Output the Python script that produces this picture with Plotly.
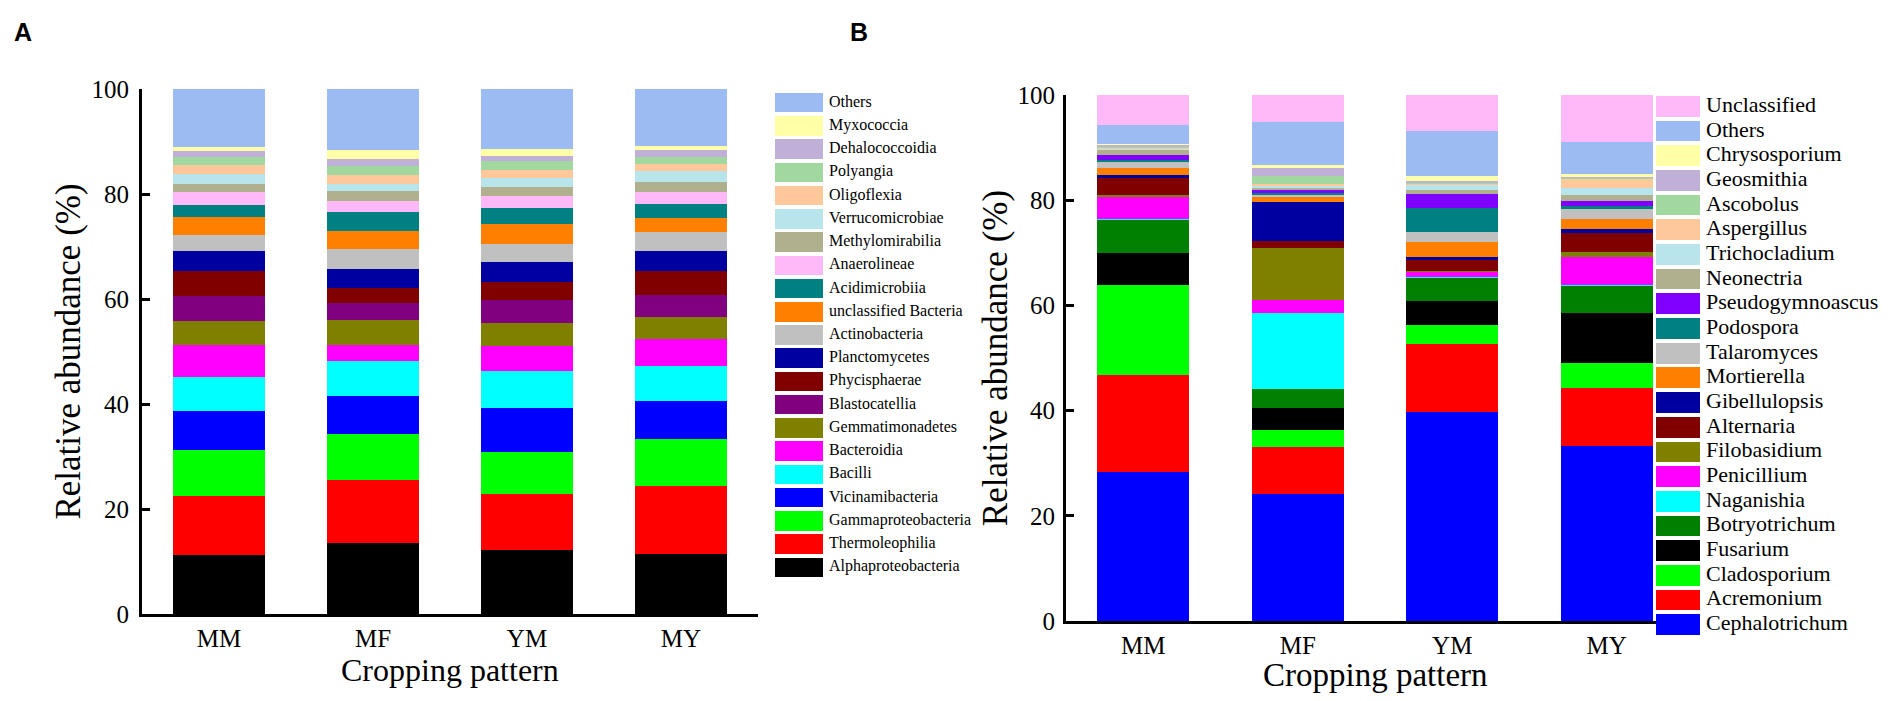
import plotly.graph_objects as go

W, H = 1889, 701

patterns = ["MM", "MF", "YM", "MY"]

# bacteria, listed bottom to top of the stack
bac_taxa = ["Alphaproteobacteria", "Thermoleophilia", "Gammaproteobacteria",
            "Vicinamibacteria", "Bacilli", "Bacteroidia", "Gemmatimonadetes",
            "Blastocatellia", "Phycisphaerae", "Planctomycetes", "Actinobacteria",
            "unclassified Bacteria", "Acidimicrobiia", "Anaerolineae",
            "Methylomirabilia", "Verrucomicrobiae", "Oligoflexia", "Polyangia",
            "Dehalococcoidia", "Myxococcia", "Others"]
bac_mm = [11.3, 11.1, 8.8, 7.4, 6.6, 6.1, 4.6, 4.7, 4.8, 3.8, 3.0, 3.4, 2.4, 2.4, 1.6, 1.9, 1.6, 1.6, 1.0, 0.9, 11.0]
bac_mf = [13.6, 11.9, 8.7, 7.3, 6.7, 3.1, 4.7, 3.2, 2.9, 3.7, 3.8, 3.4, 3.5, 2.1, 1.9, 1.5, 1.6, 1.8, 1.3, 1.7, 11.6]
bac_ym = [12.1, 10.7, 8.1, 8.4, 7.0, 4.8, 4.4, 4.3, 3.5, 3.7, 3.5, 3.7, 3.2, 2.2, 1.8, 1.6, 1.6, 1.6, 1.1, 1.3, 11.4]
bac_my = [11.4, 13.0, 8.9, 7.3, 6.6, 5.1, 4.2, 4.2, 4.6, 3.9, 3.5, 2.7, 2.7, 2.3, 1.8, 2.1, 1.5, 1.2, 1.3, 0.9, 10.8]

# fungi, bottom to top
fun_taxa = ["Cephalotrichum", "Acremonium", "Cladosporium", "Fusarium",
            "Botryotrichum", "Naganishia", "Penicillium", "Filobasidium",
            "Alternaria", "Gibellulopsis", "Mortierella", "Talaromyces",
            "Podospora", "Pseudogymnoascus", "Neonectria", "Trichocladium",
            "Aspergillus", "Ascobolus", "Geosmithia", "Chrysosporium",
            "Others", "Unclassified"]
fun_mm = [28.4, 18.3, 17.1, 6.1, 6.4, 0.1, 4.3, 0.2, 3.4, 0.4, 1.4, 1.3, 0.3, 0.9, 1.1, 0.2, 0.2, 0.2, 0.2, 0.2, 3.65, 5.65]
fun_mf = [24.2, 8.9, 3.3, 4.1, 3.6, 14.5, 2.4, 10.0, 1.2, 7.5, 1.0, 0.3, 0.3, 0.8, 0.3, 0.3, 0.3, 1.6, 1.6, 0.4, 8.3, 5.1]
fun_ym = [39.7, 13.0, 3.5, 4.6, 4.5, 0.1, 1.0, 0.1, 2.1, 0.6, 2.9, 1.9, 4.5, 2.6, 0.9, 0.9, 0.2, 0.2, 0.4, 0.9, 8.5, 6.9]
fun_my = [33.3, 11.0, 4.8, 9.4, 5.3, 0.1, 5.3, 1.0, 3.5, 0.9, 1.9, 1.9, 0.5, 1.0, 1.0, 1.4, 1.8, 0.2, 0.2, 0.4, 6.1, 9.0]

yticks = [0, 20, 40, 60, 80, 100]

bac_colors = ["#000000", "#FF0000", "#00FF00", "#0000FF", "#00FFFF", "#FF00FF",
              "#808000", "#800080", "#800000", "#0000A0", "#C0C0C0", "#FF8000",
              "#008080", "#FFB8F8", "#B0B08E", "#B8E4EC", "#FFC89A", "#A0D8A0",
              "#C0B0D8", "#FFFFA8", "#9DBBF3"]
fun_colors = ["#0000FF", "#FF0000", "#00FF00", "#000000", "#008000", "#00FFFF",
              "#FF00FF", "#808000", "#800000", "#0000A0", "#FF8000", "#C0C0C0",
              "#008080", "#8000FF", "#B0B08E", "#B8E4EC", "#FFC89A", "#A0D8A0",
              "#C0B0D8", "#FFFFA8", "#9DBBF3", "#FFB8F8"]

SERIF = "Liberation Serif"
KEY_GAP = 6  # px between swatch and label

fig = go.Figure()

def add_stack(taxa, cols, colors, xa, ya):
    for i, name in enumerate(taxa):
        fig.add_trace(go.Bar(
            x=patterns, y=[c[i] for c in cols], name=name,
            marker=dict(color=colors[i], line_width=0),
            xaxis=xa, yaxis=ya, showlegend=False))

# hand-made key: one swatch bar + one label per taxon, top entry first
def add_key(taxa, colors, xa, ya, size, label_x):
    names = taxa[::-1]
    fig.add_trace(go.Bar(
        y=names, x=[1] * len(names), orientation="h", width=0.84,
        marker=dict(color=colors[::-1], line_width=0),
        xaxis=xa, yaxis=ya, showlegend=False))
    fig.add_trace(go.Scatter(
        y=names, x=[label_x] * len(names), mode="text", text=names,
        textposition="middle right", cliponaxis=False,
        textfont=dict(family=SERIF, size=size, color="black"),
        xaxis=xa, yaxis=ya, showlegend=False))

def xax(x0, x1, anchor):
    return dict(domain=[x0 / W, x1 / W], range=[-0.5, 3.5], type="category",
                anchor=anchor,
                showline=True, linewidth=3, linecolor="black", ticks="",
                showgrid=False, zeroline=False,
                tickfont=dict(family=SERIF, size=25, color="black"))

def yax(y0, y1, anchor, lab_gap, title_gap):
    return dict(domain=[1 - y0 / H, 1 - y1 / H], range=[0, 100], anchor=anchor,
                tickvals=yticks, showline=True, linewidth=3, linecolor="black",
                ticks="inside", ticklen=8, tickwidth=3, tickcolor="black",
                showgrid=False, zeroline=False, ticklabelstandoff=lab_gap,
                tickfont=dict(family=SERIF, size=25, color="black"),
                title=dict(text="Relative abundance (%)", standoff=title_gap,
                           font=dict(family=SERIF, size=35, color="black")))

# swatch column from x0 to x1 (px), rows between y0 and y1 (px from top)
def key_axes(x0, x1, y0, y1, n, anchor):
    end = 1 + KEY_GAP / (x1 - x0)
    xa = dict(domain=[x0 / W, (x0 + (x1 - x0) * end) / W], range=[0, end],
              visible=False, anchor=anchor)
    ya = dict(domain=[1 - y1 / H, 1 - y0 / H], range=[n - 0.5, -0.5],
              visible=False, type="category", anchor=anchor.replace("y", "x"))
    return xa, ya, end

x3, y3, end3 = key_axes(767, 815, 83, 571, len(bac_taxa), "y3")
x4, y4, end4 = key_axes(1648, 1692, 86, 629, len(fun_taxa), "y4")

add_stack(bac_taxa, [bac_mm, bac_mf, bac_ym, bac_my], bac_colors, "x", "y")
add_stack(fun_taxa, [fun_mm, fun_mf, fun_ym, fun_my], fun_colors, "x2", "y2")
add_key(bac_taxa, bac_colors, "x3", "y3", 16, end3)
add_key(fun_taxa, fun_colors, "x4", "y4", 22, end4)

def label(text, x, y, size, family=SERIF, bold=False):
    return dict(text="<b>%s</b>" % text if bold else text,
                x=x / W, y=1 - y / H, xref="paper", yref="paper",
                xanchor="center", yanchor="middle", showarrow=False,
                font=dict(family=family, size=size, color="black"))

fig.update_layout(
    width=W, height=H, autosize=False,
    margin=dict(l=0, r=0, t=0, b=0),
    paper_bgcolor="white", plot_bgcolor="white",
    template="none",
    barmode="stack", bargap=0.405,
    font=dict(family=SERIF, color="black"),
    xaxis=xax(134, 750, "y"),
    yaxis=yax(606, 81, "x", 5, 1),
    xaxis2=xax(1058, 1676, "y2"),
    yaxis2=yax(613, 87, "x2", 3, 0),
    xaxis3=x3, yaxis3=y3,
    xaxis4=x4, yaxis4=y4,
    annotations=[
        label("A", 15, 24, 25, "Liberation Sans", True),
        label("B", 851, 24, 25, "Liberation Sans", True),
        label("Cropping pattern", 442, 662, 32),
        label("Cropping pattern", 1367, 667, 33),
    ],
)

fig.write_html("out.html")
